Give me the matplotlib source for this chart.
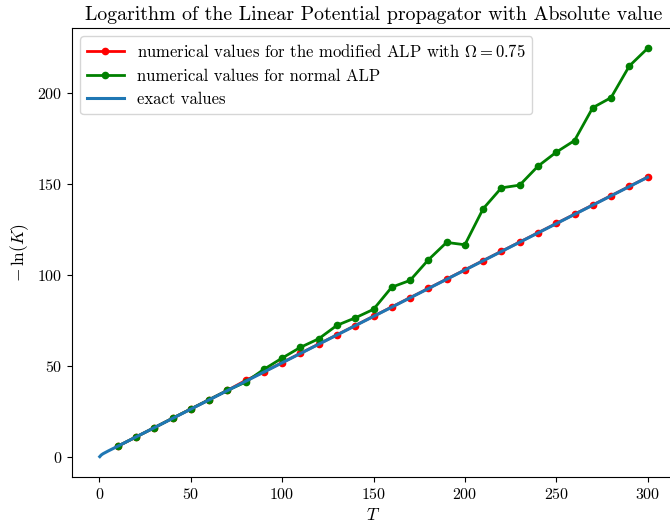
import matplotlib
matplotlib.use("Agg")
import matplotlib.pyplot as plt

plt.rcParams['font.family'] = 'serif'
plt.rcParams['font.serif'] = ['cmr10']
plt.rcParams['mathtext.fontset'] = 'cm'
plt.rcParams['axes.formatter.use_mathtext'] = True

# time values of the numerical runs
T = [10, 20, 30, 40, 50, 60, 70, 80, 90, 100, 110, 120, 130, 140, 150,
     160, 170, 180, 190, 200, 210, 220, 230, 240, 250, 260, 270, 280, 290, 300]

# modified ALP (Omega = 0.75)
modified = [5.7, 10.8, 15.9, 21.1, 26.2, 31.3, 36.4, 41.9, 46.6, 51.7,
            56.8, 61.9, 67.0, 72.1, 77.2, 82.3, 87.4, 92.5, 97.6, 102.7,
            107.8, 112.9, 118.0, 123.1, 128.2, 133.3, 138.4, 143.5, 148.6, 153.7]

# normal ALP
normal = [5.7, 10.8, 15.9, 21.1, 26.2, 31.3, 36.4, 41.0, 48.0, 54.2,
          60.1, 64.8, 72.2, 76.3, 81.0, 93.2, 96.9, 108.2, 117.8, 116.5,
          136.3, 147.8, 149.3, 159.7, 167.4, 173.8, 191.9, 197.4, 214.8, 224.5]

# exact curve
T_exact = [0.2, 1, 2, 5, 10, 20, 30, 40, 50, 60, 70, 80, 90, 100, 120, 140,
           160, 180, 200, 220, 240, 260, 280, 300]
exact = [0.0, 0.9, 1.6, 3.2, 5.7, 10.8, 15.9, 21.0, 26.1, 31.2, 36.3, 41.4,
         46.5, 51.6, 61.8, 72.0, 82.2, 92.4, 102.6, 112.8, 123.0, 133.2, 143.4, 153.6]

fig = plt.figure(figsize=(6.7, 5.28), dpi=100)
ax = fig.add_axes([72 / 670, 51 / 528, 603 / 670, 449 / 528])

ax.plot(T, modified, '-o', color='red', lw=2, ms=4.5,
        label=r'numerical values for the modified ALP with $\Omega = 0.75$')
ax.plot(T, normal, '-o', color='green', lw=2, ms=4.5,
        label='numerical values for normal ALP')
ax.plot(T_exact, exact, color='tab:blue', lw=2.2, label='exact values')

ax.set_xlim(-15, 315)
ax.set_ylim(-11.2, 235.7)
ax.set_xticks([0, 50, 100, 150, 200, 250, 300])
ax.set_yticks([0, 50, 100, 150, 200])
ax.tick_params(labelsize=11.5)

ax.set_xlabel(r'$T$', fontsize=12.5, labelpad=4)
ax.set_ylabel(r'$-\,\ln(K)$', fontsize=12.5)
ax.set_title('Logarithm of the Linear Potential propagator with Absolute value',
             fontsize=14.3)
ax.legend(loc='upper left', fontsize=12, handlelength=2.2)

fig.savefig('out.png', dpi=100)
